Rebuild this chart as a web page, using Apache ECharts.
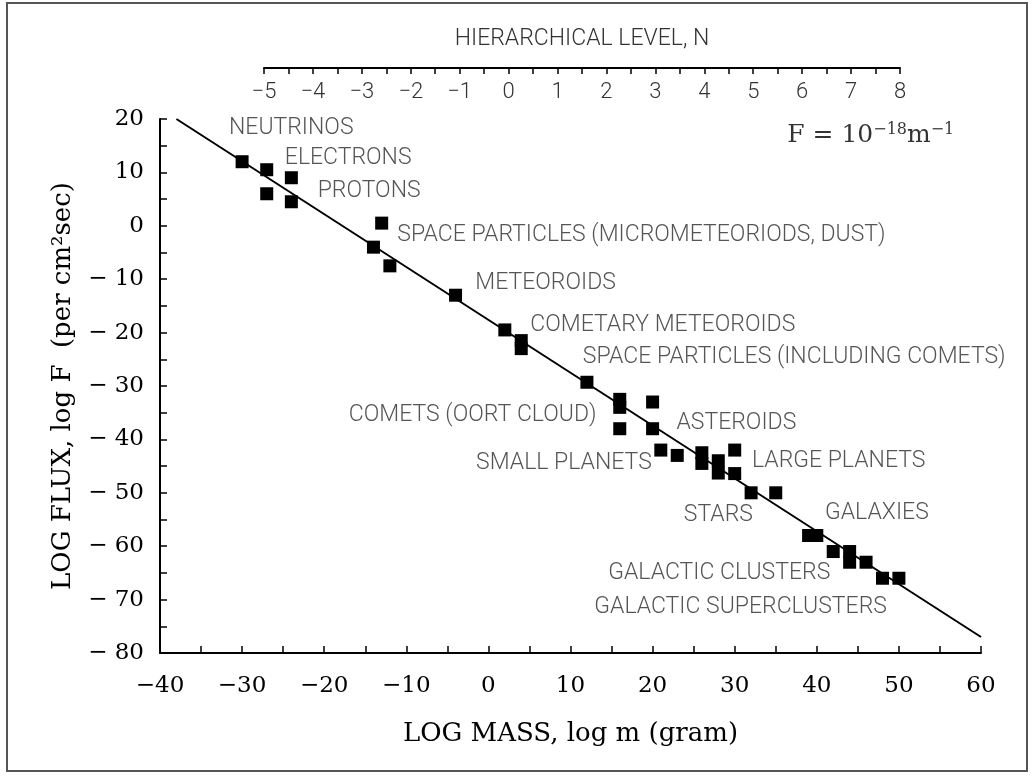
<!DOCTYPE html>
<html>
<head>
<meta charset="utf-8">
<title>Log flux vs log mass</title>
<script src="https://cdn.jsdelivr.net/npm/echarts@6/dist/echarts.min.js"></script>
<style>
  html, body { margin: 0; padding: 0; background: #fff; }
  #chart { width: 1034px; height: 776px; }
</style>
</head>
<body>
<div id="chart"></div>
<script>
// measured points: [log m, log F]
var points = [
  [-30, 12], [-27, 10.5], [-27, 6], [-24, 9], [-24, 4.5],
  [-13, 0.5], [-14, -4], [-12, -7.5], [-4, -13],
  [2, -19.5], [4, -21.5], [4, -23], [12, -29.3],
  [16, -32.5], [16, -34], [16, -38], [20, -33], [20, -38],
  [21, -42], [23, -43], [26, -42.5], [26, -44.5], [28, -44], [28, -46.3],
  [30, -42], [30, -46.4], [32, -50], [35, -50],
  [39, -58], [40, -58], [42, -61], [44, -61], [44, -63], [46, -63],
  [48, -66], [50, -66]
];
// F = 10^-18 m^-1 line ends
var fitLine = [[-38, 20], [60, -77]];

var labelNames = [
  "NEUTRINOS", "ELECTRONS", "PROTONS",
  "SPACE PARTICLES (MICROMETEORIODS, DUST)", "METEOROIDS",
  "COMETARY METEOROIDS", "SPACE PARTICLES (INCLUDING COMETS)",
  "COMETS (OORT CLOUD)", "ASTEROIDS", "SMALL PLANETS", "LARGE PLANETS",
  "STARS", "GALAXIES", "GALACTIC CLUSTERS", "GALACTIC SUPERCLUSTERS"
];
// left edge / middle of each label, in data units
var labelAnchors = [
  [-31.6, 18.3], [-24.8, 12.7], [-20.8, 6.5],
  [-11.1, -1.7], [-1.6, -10.7],
  [5.1, -18.6], [11.5, -24.6],
  [-17.0, -35.4], [22.9, -36.9], [-1.5, -44.4], [32.1, -44.0],
  [23.8, -54.2], [41.0, -53.8], [14.6, -65.0], [12.9, -71.4]
];
var formulaAnchor = [36.4, 17.0];

var levelTicks = [-5, 8];
var massRange = [-40, 60];
var fluxRange = [-80, 20];

var serif = "DejaVu Serif";
var sans = "Roboto";

function minus(v) {
  return String(v).replace("-", "\u2212");
}

var labelData = [];
for (var i = 0; i < labelNames.length; i++) {
  labelData.push({ name: labelNames[i], value: labelAnchors[i] });
}

var option = {
  animation: false,
  graphic: [
    {
      type: "rect",
      shape: { x: 7, y: 3, width: 1020, height: 768 },
      style: { fill: "none", stroke: "#555", lineWidth: 2 }
    }
  ],
  grid: [
    { left: 160, right: 53, top: 119, bottom: 123 },
    { left: 264, width: 636, top: 58, height: 10 }
  ],
  xAxis: [
    {
      type: "value",
      gridIndex: 0,
      min: massRange[0],
      max: massRange[1],
      interval: 10,
      name: "LOG MASS, log m (gram)",
      nameLocation: "middle",
      nameGap: 68,
      nameTextStyle: { fontFamily: serif, fontSize: 26, color: "#000" },
      axisLine: { onZero: false, lineStyle: { color: "#000", width: 2 } },
      axisTick: { inside: true, length: 7, lineStyle: { color: "#000", width: 1.5 } },
      minorTick: { show: true, splitNumber: 2, length: 7, lineStyle: { color: "#000", width: 1.5 } },
      splitLine: { show: false },
      axisLabel: {
        margin: 22,
        fontFamily: serif,
        fontSize: 23,
        color: "#000",
        formatter: minus
      }
    },
    {
      type: "value",
      gridIndex: 1,
      position: "top",
      min: levelTicks[0],
      max: levelTicks[1],
      interval: 1,
      name: "HIERARCHICAL LEVEL, N",
      nameLocation: "middle",
      nameGap: 7,
      nameTextStyle: { fontFamily: sans, fontWeight: 300, fontSize: 23, color: "#333" },
      axisLine: { lineStyle: { color: "#000", width: 2 } },
      axisTick: { inside: true, length: 6, lineStyle: { color: "#000", width: 1.5 } },
      minorTick: { show: true, splitNumber: 2, length: 6, lineStyle: { color: "#000", width: 1.5 } },
      splitLine: { show: false },
      axisLabel: {
        inside: true,
        margin: 23,
        fontFamily: sans,
        fontWeight: 300,
        fontSize: 22,
        color: "#333",
        formatter: minus
      }
    }
  ],
  yAxis: [
    {
      type: "value",
      gridIndex: 0,
      min: fluxRange[0],
      max: fluxRange[1],
      interval: 10,
      name: "LOG FLUX, log F  (per cm\u00b2sec)",
      nameLocation: "middle",
      nameGap: 84,
      nameTextStyle: { fontFamily: serif, fontSize: 26, color: "#000" },
      axisLine: { onZero: false, lineStyle: { color: "#000", width: 2 } },
      axisTick: { inside: true, length: 7, lineStyle: { color: "#000", width: 1.5 } },
      minorTick: { show: true, splitNumber: 2, length: 7, lineStyle: { color: "#000", width: 1.5 } },
      splitLine: { show: false },
      axisLabel: {
        margin: 16,
        fontFamily: serif,
        fontSize: 23,
        color: "#000",
        formatter: function (v) {
          return v < 0 ? "\u2212 " + Math.abs(v) : String(v);
        }
      }
    },
    { type: "value", gridIndex: 1, show: false, min: 0, max: 1 }
  ],
  series: [
    {
      name: "fit",
      type: "line",
      xAxisIndex: 0,
      yAxisIndex: 0,
      data: fitLine,
      symbol: "none",
      silent: true,
      lineStyle: { color: "#000", width: 2 }
    },
    {
      name: "objects",
      type: "scatter",
      xAxisIndex: 0,
      yAxisIndex: 0,
      data: points,
      symbol: "rect",
      symbolSize: 13,
      itemStyle: { color: "#000", opacity: 1 }
    },
    {
      name: "labels",
      type: "scatter",
      xAxisIndex: 0,
      yAxisIndex: 0,
      data: labelData,
      symbolSize: 0,
      silent: true,
      label: {
        show: true,
        position: "right",
        distance: 0,
        formatter: "{b}",
        fontFamily: sans,
        fontWeight: 300,
        fontSize: 23,
        color: "#2a2a2a"
      }
    },
    {
      name: "formula",
      type: "scatter",
      xAxisIndex: 0,
      yAxisIndex: 0,
      data: [{ name: "F", value: formulaAnchor }],
      symbolSize: 0,
      silent: true,
      label: {
        show: true,
        position: "right",
        distance: 0,
        formatter: "{b|F = 10}{s|\u221218}{b|m}{s|\u22121}",
        rich: {
          b: { fontFamily: serif, fontSize: 25, color: "#000" },
          s: { fontFamily: serif, fontSize: 16, color: "#000", padding: [0, 0, 11, 0] }
        }
      }
    }
  ]
};

var chart = echarts.init(document.getElementById("chart"));
chart.setOption(option);
</script>
</body>
</html>
